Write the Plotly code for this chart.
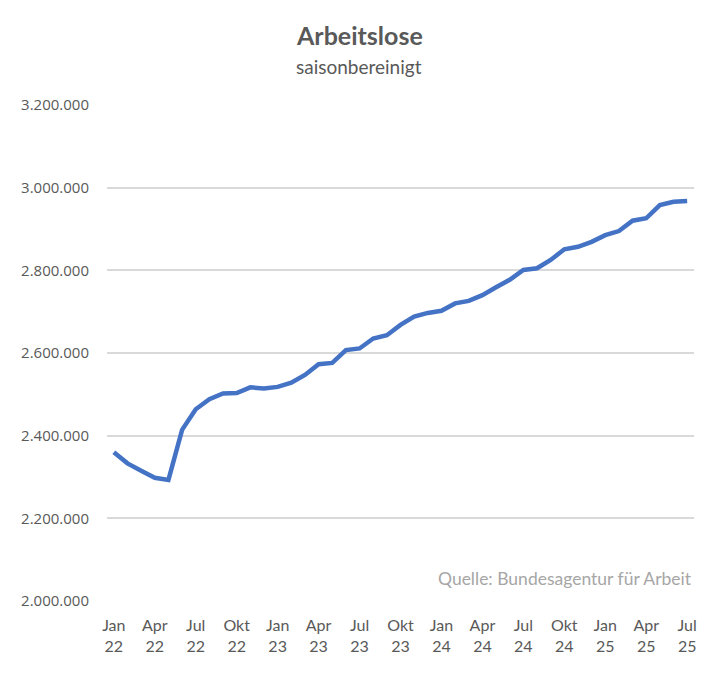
import plotly.graph_objects as go

months = ["Jan", "Feb", "Mär", "Apr", "Mai", "Jun", "Jul", "Aug", "Sep", "Okt", "Nov", "Dez"]
years = ["22", "23", "24", "25"]
categories = [f"{m} {y}" for y in years for m in months][:43]

values = [
    2360000, 2333000, 2315000, 2298000, 2293000, 2414000, 2464000, 2488000, 2502000, 2503000, 2517000, 2514000,
    2518000, 2528000, 2547000, 2573000, 2576000, 2607000, 2611000, 2635000, 2643000, 2668000, 2688000, 2697000,
    2702000, 2720000, 2726000, 2740000, 2759000, 2777000, 2801000, 2805000, 2825000, 2851000, 2857000, 2869000,
    2885000, 2895000, 2920000, 2926000, 2958000, 2966000, 2968000,
]

tick_idx = list(range(0, 43, 3))
tick_text = [categories[i].replace(" ", "<br>") for i in tick_idx]
y_ticks = [2000000, 2200000, 2400000, 2600000, 2800000, 3000000, 3200000]

font = "Lato, 'Open Sans', sans-serif"
num_font = "'Open Sans', Lato, sans-serif"
grey = "#595959"

fig = go.Figure()
fig.add_trace(go.Scatter(
    x=list(range(len(values))), y=values, mode="lines",
    line=dict(color="#4472C4", width=4.5), hoverinfo="skip",
))

fig.update_layout(
    width=718, height=673,
    margin=dict(l=107, r=24, t=105, b=72),
    paper_bgcolor="white", plot_bgcolor="white",
    separators=",.",
    showlegend=False,
    font=dict(family=font, color=grey, size=16),
    xaxis=dict(
        range=[-0.5, 42.5], tickmode="array", tickvals=tick_idx, ticktext=tick_text,
        showgrid=False, zeroline=False, showline=False, ticks="",
        tickfont=dict(size=16, color=grey), ticklabelstandoff=13,
    ),
    yaxis=dict(
        range=[2000000, 3200000], tickmode="array", tickvals=y_ticks,
        tickformat=",d", showgrid=True, gridcolor="#d9d9d9", gridwidth=1.5,
        zeroline=False, showline=False, ticks="",
        tickfont=dict(family=num_font, size=15, color=grey), ticklabelstandoff=17,
    ),
    annotations=[
        dict(
            text="<b>Arbeitslose</b>", xref="paper", yref="paper",
            x=(359 - 107) / 587, y=(601 - 35) / 496, xanchor="center", yanchor="middle",
            showarrow=False, font=dict(family=font, size=25, color=grey),
        ),
        dict(
            text="saisonbereinigt", xref="paper", yref="paper",
            x=(359 - 107) / 587, y=(601 - 67) / 496, xanchor="center", yanchor="middle",
            showarrow=False, font=dict(family=font, size=19, color=grey),
        ),
        dict(
            text="Quelle: Bundesagentur für Arbeit", xref="paper", yref="paper",
            x=1.0, y=(601 - 578) / 496, xanchor="right", yanchor="middle", showarrow=False,
            font=dict(family=font, size=17.5, color="#a6a6a6"),
        ),
    ],
)

fig.write_html("out.html")
